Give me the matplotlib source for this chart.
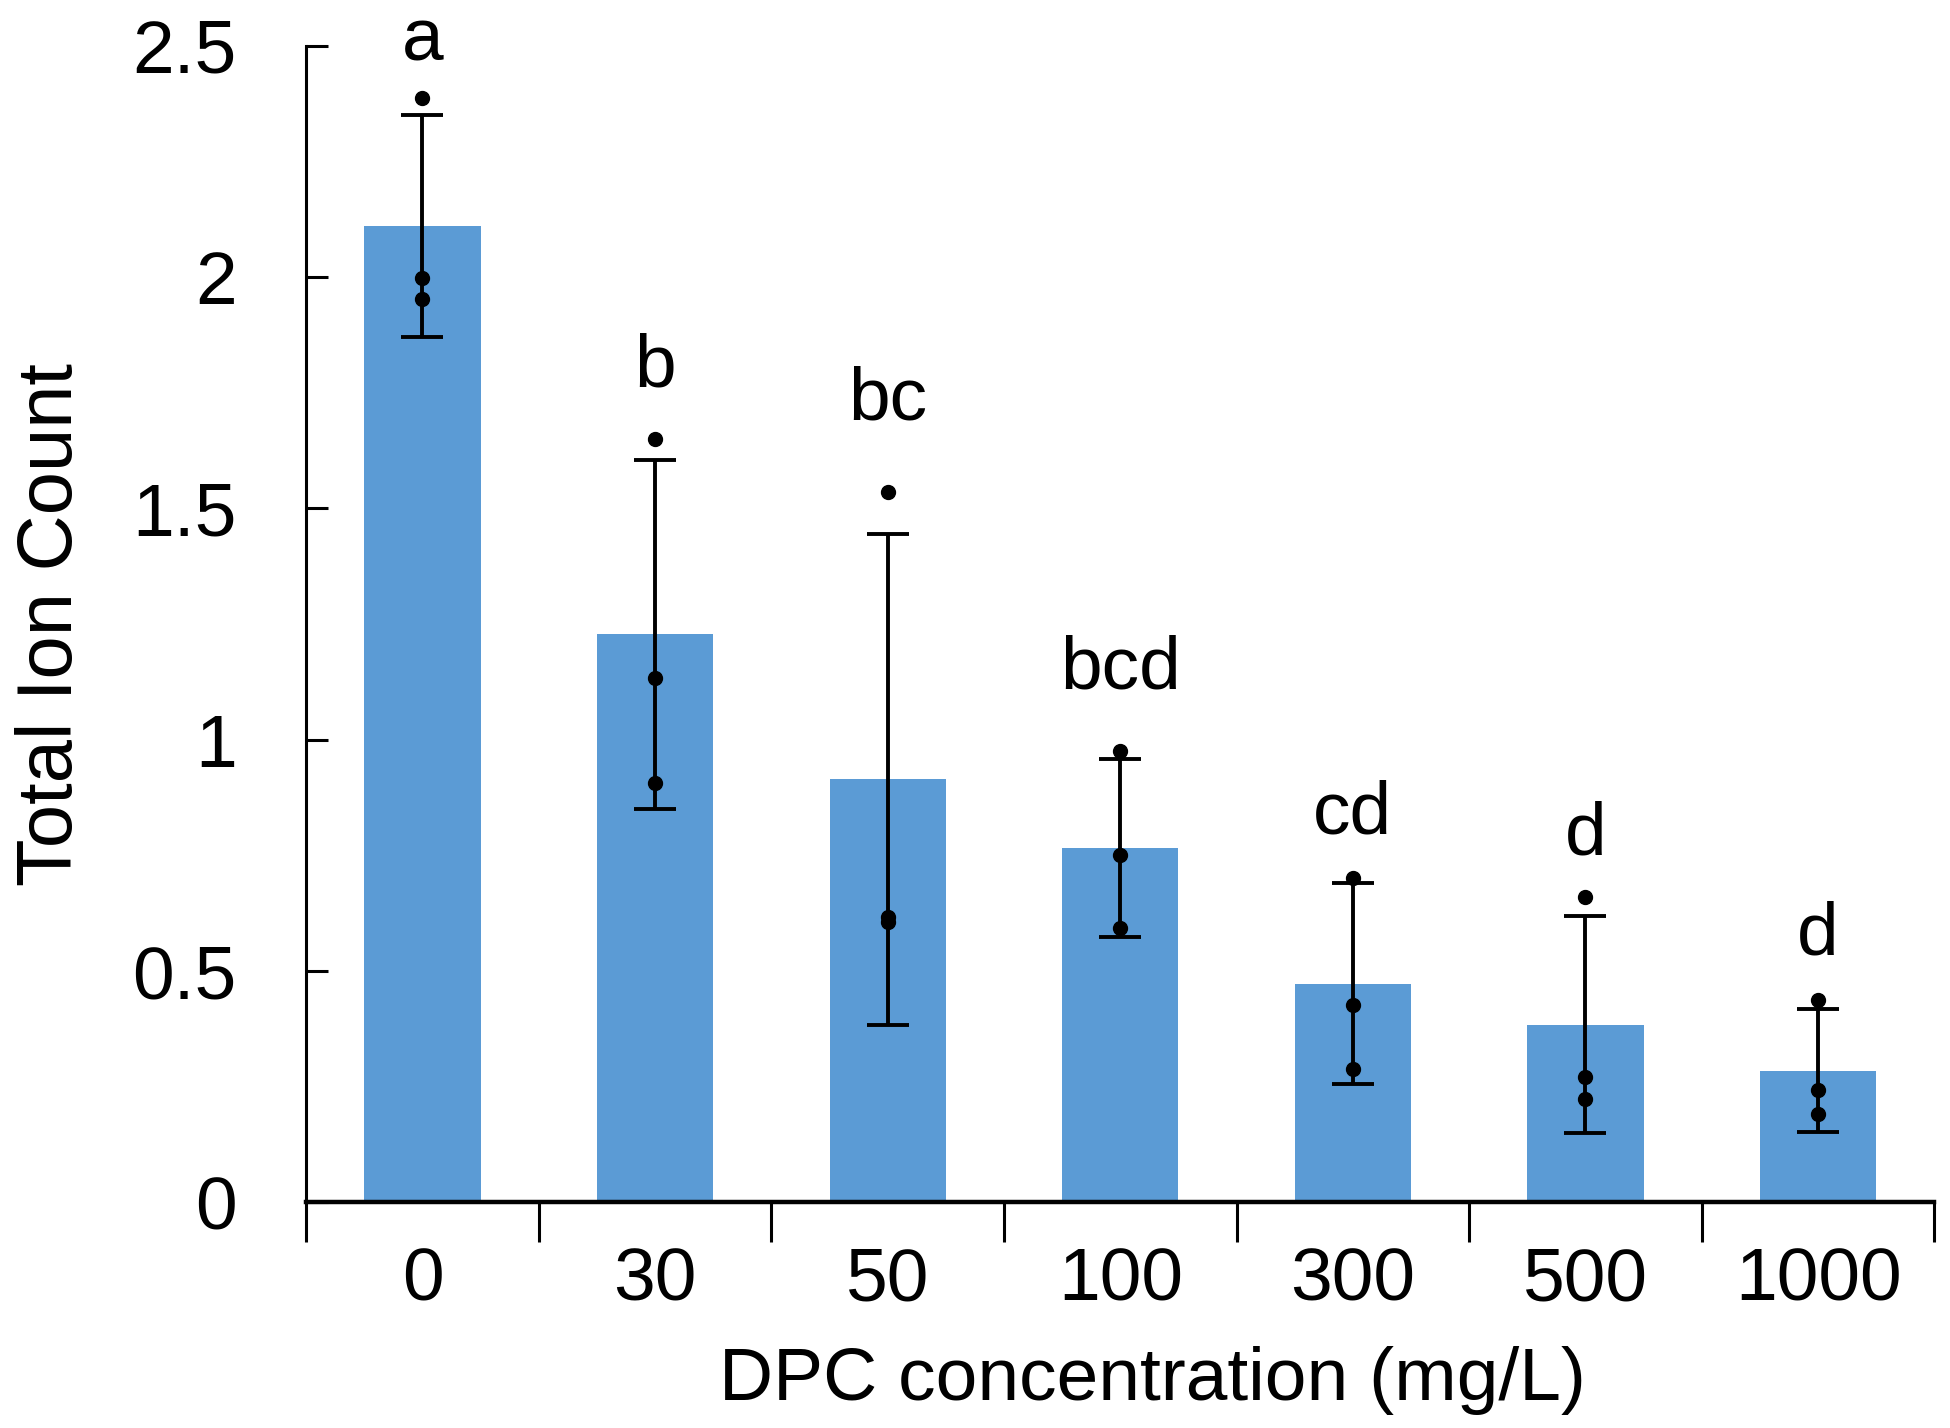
import matplotlib.pyplot as plt
import numpy as np

plt.rcParams['font.family'] = ['Liberation Sans', 'DejaVu Sans']

conc = ['0', '30', '50', '100', '300', '500', '1000']
means = [2.11, 1.228, 0.914, 0.766, 0.473, 0.384, 0.285]
sd = [0.24, 0.377, 0.53, 0.193, 0.217, 0.235, 0.133]
reps = [[2.387, 1.997, 1.952],
        [1.651, 1.134, 0.906],
        [1.535, 0.616, 0.605],
        [0.976, 0.750, 0.594],
        [0.702, 0.427, 0.288],
        [0.661, 0.272, 0.223],
        [0.438, 0.242, 0.191]]
letters = ['a', 'b', 'bc', 'bcd', 'cd', 'd', 'd']
letter_y = [2.51, 1.806, 1.734, 1.153, 0.839, 0.793, 0.578]

fig = plt.figure(figsize=(19.5, 14.28), dpi=100)
ax = fig.add_axes([0.157, 0.158, 0.835, 0.810])

ind = np.arange(len(conc))
ax.bar(ind, means, 0.5, color='#5B9BD5', zorder=1)
ax.errorbar(ind, means, yerr=sd, fmt='none', ecolor='black', elinewidth=2.8,
            capsize=15, capthick=2.8, zorder=2)
for i, r in enumerate(reps):
    ax.plot([i] * len(r), r, 'o', color='black', markersize=10, zorder=3)
for i, (t, y) in enumerate(zip(letters, letter_y)):
    ax.text(i, y, t, ha='center', va='center', fontsize=54, clip_on=False)

ax.set_xlim(-0.5, 6.5)
ax.set_ylim(0, 2.5)
ax.set_yticks([0, 0.5, 1, 1.5, 2, 2.5])
ax.set_yticklabels(['0', '0.5', '1', '1.5', '2', '2.5'])
ax.set_xticks(ind)
ax.set_xticklabels(conc)
ax.set_xticks(np.arange(-0.5, 7, 1), minor=True)

ax.tick_params(axis='y', direction='in', length=16, width=2.2, labelsize=54, pad=50)
ax.tick_params(axis='x', which='major', length=0, labelsize=54, pad=32)
ax.tick_params(axis='x', which='minor', direction='out', length=29, width=2.2)

ax.spines['top'].set_visible(False)
ax.spines['right'].set_visible(False)
ax.spines['left'].set_linewidth(2.2)
ax.spines['bottom'].set_linewidth(3.2)

ax.set_ylabel('Total Ion Count', fontsize=56)
ax.yaxis.set_label_coords(-0.134, 0.5)
ax.set_xlabel('DPC concentration (mg/L)', fontsize=54)
ax.xaxis.set_label_coords(0.52, -0.124)

fig.savefig('out.png', dpi=100)
